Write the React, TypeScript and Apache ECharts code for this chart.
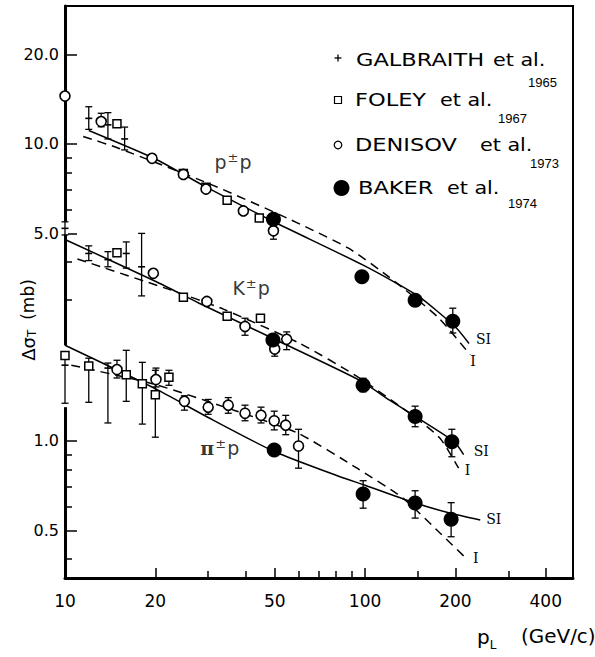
import React, { useEffect, useRef } from 'react';
import * as echarts from 'echarts';

// Axis ranges (log scales)
const X_MIN = 10;
const X_MAX = 493;
const Y_MIN = 0.3457;
const Y_MAX = 29.15;
const xMajorTicks = [10, 20, 50, 100, 200, 400];
const xMinorTicks = [30, 40, 60, 70, 80, 90, 150, 300];
const yMajorTicks = [0.5, 1, 5, 10, 20];
const yMinorTicks = [0.4, 0.6, 0.7, 0.8, 0.9, 3, 4, 6, 7, 8, 9];
// y-axis spine interruptions [pL, from, to]
const axisBreaks = [[10, 1.3, 2.1], [10, 4.95, 5.47]];

// data rows: [pL (GeV/c), delta sigma (mb), low, high]
const galbraithPP = [[12, 12.2, 11.2, 13.35], [13.9, 11.6, 10.4, 12.75], [15.8, 10.4, 9.55, 11.4]];
const galbraithKP = [[10, 5.2, 4.94, 5.47], [12, 4.28, 4.05, 4.54], [13.9, 4.08, 3.86, 4.34], [16, 4.28, 3.82, 4.68], [18, 3.86, 3.08, 5.0]];
const galbraithPiP = [[10, 1.8, 1.34, 1.95], [13.9, 1.76, 1.15, 1.83], [16, 1.67, 1.36, 2.02], [18.1, 1.58, 1.14, 1.84]];

const foleyPP = [[14.9, 11.7], [24.8, 7.95], [29.5, 7.15], [34.7, 6.47], [44.4, 5.63]];
const foleyKP = [[14.9, 4.3], [24.8, 3.05], [34.7, 2.63], [44.8, 2.59]];
const foleyPiP = [[10, 1.94], [12, 1.79, 1.35, 1.9], [16, 1.67], [18.1, 1.56], [20, 1.43, 1.03, 1.73], [22.2, 1.64, 1.54, 1.73]];

const denisovPP = [[10, 14.5], [13.2, 11.9, 11.43, 12.69], [19.5, 8.95], [24.8, 7.9], [29.5, 7.05], [39.3, 5.95], [49.5, 5.1, 4.78, 5.25]];
const denisovKP = [[19.7, 3.67], [29.7, 2.95], [39.8, 2.43, 2.27, 2.59], [50, 2.04, 1.93, 2.15], [54.8, 2.2, 2.03, 2.33]];
const denisovPiP = [[14.9, 1.74, 1.63, 1.87], [20.1, 1.61, 1.52, 1.76], [25, 1.36, 1.27, 1.42], [30, 1.3, 1.23, 1.38], [35, 1.32, 1.24, 1.4], [39.8, 1.24, 1.17, 1.32], [45, 1.22, 1.15, 1.3], [49.8, 1.17, 1.09, 1.26], [54.4, 1.13, 1.05, 1.22], [60, 0.962, 0.81, 1.095]];

const bakerPP = [[49.5, 5.58], [97.6, 3.57], [146.8, 2.98], [196, 2.53, 2.31, 2.8]];
const bakerKP = [[49.3, 2.19], [98.5, 1.54, 1.465, 1.626], [146.8, 1.21, 1.117, 1.31], [194.6, 0.995, 0.885, 1.095]];
const bakerPiP = [[49.8, 0.933, 0.9, 0.97], [98.5, 0.663, 0.594, 0.735], [146.8, 0.618, 0.55, 0.68], [193.5, 0.545, 0.476, 0.62]];

// model curves (SI solid, I dashed)
const siPP = [[12, 11.1], [20, 8.9], [30, 7.1], [50, 5.45], [100, 3.88], [150, 3.08], [200, 2.42], [222, 2.13]];
const iPP = [[11.5, 10.6], [15, 9.7], [31, 7.27], [55, 5.63], [88, 4.46], [120, 3.57], [175, 2.61], [224, 1.95]];
const siKP = [[10, 4.77], [20, 3.45], [28, 2.91], [50, 2.2], [96, 1.6], [121, 1.37], [147, 1.21], [198, 0.995], [213, 0.9]];
const iKP = [[11, 4.1], [22.6, 3.22], [33.7, 2.78], [60.7, 2.13], [94, 1.65], [147, 1.2], [178, 1.02], [205, 0.81]];
const siPiP = [[10, 2.1], [20, 1.5], [30, 1.2], [50, 0.92], [82.5, 0.758], [100, 0.71], [147, 0.618], [194, 0.57], [242, 0.542]];
const iPiP = [[10.5, 1.8], [20, 1.55], [36.5, 1.27], [60, 1.06], [94, 0.81], [134, 0.641], [178, 0.489], [217, 0.403]];

// reaction labels placed at data coordinates
const reactionLabels = [
  { text: 'p{s|±}p', at: [36.3, 8.68] },
  { text: 'K{s|±}p', at: [41.7, 3.27] },
  { text: '{pi|π}{s|±}p', at: [32.8, 0.947] },
];

const FONT = '"DejaVu Sans", sans-serif';

function errorSeries(rows: number[][], center: boolean, z: number) {
  const data = rows
    .filter((d) => d.length === 4 || center)
    .map((d) => (d.length === 4 ? d : [d[0], d[1], d[1], d[1]]));
  return {
    type: 'custom',
    coordinateSystem: 'cartesian2d',
    clip: false,
    silent: true,
    z,
    encode: { x: 0, y: 1 },
    data,
    renderItem: (params: any, api: any) => {
      const x = api.value(0);
      const y = api.value(1);
      const lo = api.value(2);
      const hi = api.value(3);
      const c = api.coord([x, y]);
      const pl = api.coord([x, lo]);
      const ph = api.coord([x, hi]);
      const st = { stroke: '#000', lineWidth: 1.3 };
      const cap = 3.5;
      const children: any[] = [];
      if (hi !== lo) {
        children.push({ type: 'line', shape: { x1: c[0], y1: pl[1], x2: c[0], y2: ph[1] }, style: st });
        children.push({ type: 'line', shape: { x1: c[0] - cap, y1: pl[1], x2: c[0] + cap, y2: pl[1] }, style: st });
        children.push({ type: 'line', shape: { x1: c[0] - cap, y1: ph[1], x2: c[0] + cap, y2: ph[1] }, style: st });
      }
      if (center) {
        children.push({ type: 'line', shape: { x1: c[0] - 3.5, y1: c[1], x2: c[0] + 3.5, y2: c[1] }, style: { stroke: '#000', lineWidth: 1.6 } });
      }
      return { type: 'group', children };
    },
  };
}

function curve(name: string, data: number[][], dashed: boolean, label: string, offset: number[], distance: number) {
  return {
    name,
    type: 'line',
    data,
    showSymbol: false,
    smooth: 0.2,
    z: 1,
    silent: true,
    lineStyle: { color: '#000', width: 1.5, type: dashed ? [9, 6] : 'solid' },
    endLabel: {
      show: true,
      formatter: label,
      distance,
      offset,
      color: '#000',
      fontFamily: '"DejaVu Serif", serif',
      fontSize: 14,
    },
  };
}

function markerSeries(name: string, rows: number[][], kind: string) {
  const base: any = {
    name,
    type: 'scatter',
    data: rows.map((d) => [d[0], d[1]]),
    clip: false,
    silent: true,
  };
  if (kind === 'square') {
    return { ...base, symbol: 'rect', symbolSize: 8, z: 4, itemStyle: { color: '#fff', opacity: 1, borderColor: '#000', borderWidth: 1.5 } };
  }
  if (kind === 'open') {
    return { ...base, symbol: 'circle', symbolSize: 10, z: 5, itemStyle: { color: '#fff', opacity: 1, borderColor: '#000', borderWidth: 1.6 } };
  }
  return { ...base, symbol: 'circle', symbolSize: 15, z: 6, itemStyle: { color: '#000', opacity: 1, borderColor: '#000', borderWidth: 0 } };
}

function legendGraphic() {
  const items = [
    { name: 'GALBRAITH', year: '1965', y: 60, nameX: 356, etalX: 493, yearX: 528, yearY: 82, marker: 'plus', mx: 338 },
    { name: 'FOLEY', year: '1967', y: 100, nameX: 355, etalX: 440, yearX: 498, yearY: 118, marker: 'square', mx: 338 },
    { name: 'DENISOV', year: '1973', y: 145, nameX: 355, etalX: 480, yearX: 530, yearY: 163, marker: 'open', mx: 338 },
    { name: 'BAKER', year: '1974', y: 188, nameX: 358, etalX: 447, yearX: 508, yearY: 203, marker: 'filled', mx: 341.5 },
  ];
  const els: any[] = [];
  items.forEach((it) => {
    if (it.marker === 'plus') {
      els.push({ type: 'line', shape: { x1: it.mx - 3.5, y1: it.y - 2, x2: it.mx + 3.5, y2: it.y - 2 }, style: { stroke: '#000', lineWidth: 1.3 } });
      els.push({ type: 'line', shape: { x1: it.mx, y1: it.y - 5.5, x2: it.mx, y2: it.y + 1.5 }, style: { stroke: '#000', lineWidth: 1.3 } });
    } else if (it.marker === 'square') {
      els.push({ type: 'rect', shape: { x: it.mx - 3.5, y: it.y - 3.5, width: 7, height: 7 }, style: { fill: '#fff', stroke: '#000', lineWidth: 1.2 } });
    } else if (it.marker === 'open') {
      els.push({ type: 'circle', shape: { cx: it.mx, cy: it.y, r: 3.8 }, style: { fill: '#fff', stroke: '#000', lineWidth: 1.2 } });
    } else {
      els.push({ type: 'circle', shape: { cx: it.mx, cy: it.y, r: 8 }, style: { fill: '#000' } });
    }
    els.push({
      type: 'text', x: it.nameX, y: it.y, scaleX: 1.25,
      style: { text: it.name, fontSize: 18, fontFamily: FONT, fill: '#000', textAlign: 'left', verticalAlign: 'middle' },
    });
    els.push({
      type: 'text', x: it.etalX, y: it.y, scaleX: 1.15,
      style: { text: 'et al.', fontSize: 18, fontFamily: FONT, fill: '#000', textAlign: 'left', verticalAlign: 'middle' },
    });
    els.push({
      type: 'text', x: it.yearX, y: it.yearY,
      style: { text: it.year, fontSize: 13, fontFamily: '"Liberation Sans", sans-serif', fill: '#000', textAlign: 'left', verticalAlign: 'middle' },
    });
  });
  // axis titles
  els.push({
    type: 'text', x: 28, y: 320, rotation: Math.PI / 2,
    style: {
      text: '{a|Δσ}{b|T}   {c|(mb)}',
      textAlign: 'center', verticalAlign: 'middle', fill: '#000',
      rich: {
        a: { fontSize: 18, fontFamily: FONT, fill: '#000' },
        b: { fontSize: 12, fontFamily: FONT, fill: '#000', verticalAlign: 'bottom', padding: [8, 0, 0, 0] },
        c: { fontSize: 17, fontFamily: FONT, fill: '#000' },
      },
    },
  });
  els.push({
    type: 'text', x: 477, y: 637,
    style: {
      text: '{p|p}{l|L}',
      textAlign: 'left', verticalAlign: 'middle', fill: '#000',
      rich: {
        p: { fontSize: 20, fontFamily: FONT, fill: '#000' },
        l: { fontSize: 12, fontFamily: FONT, fill: '#000', padding: [16, 0, 0, 0] },
      },
    },
  });
  els.push({
    type: 'text', x: 521, y: 637, scaleX: 1.05,
    style: { text: '(GeV/c)', fontSize: 19, fontFamily: FONT, fill: '#000', textAlign: 'left', verticalAlign: 'middle' },
  });
  return els;
}

export default function App() {
  const ref = useRef<HTMLDivElement>(null);

  useEffect(() => {
    document.body.style.margin = '0';
    if (!ref.current) return;
    const chart = echarts.init(ref.current, undefined, { renderer: 'svg' });

    const axisCommon = { type: 'log', logBase: 10, splitLine: { show: false }, minorTick: { show: false } };

    const option: any = {
      animation: false,
      backgroundColor: '#fff',
      grid: { left: 65, top: 6, right: 22, bottom: 79, show: true, borderColor: '#000', borderWidth: 2, backgroundColor: 'transparent' },
      xAxis: [
        {
          ...axisCommon, min: X_MIN, max: X_MAX, position: 'bottom',
          axisLine: { show: true, lineStyle: { color: '#000', width: 3 } },
          axisTick: { show: true, inside: true, length: 10, customValues: xMajorTicks, lineStyle: { color: '#000', width: 1.5 } },
          axisLabel: { show: true, customValues: xMajorTicks, formatter: (v: number) => String(Math.round(v)), color: '#000', fontSize: 17, fontFamily: FONT, margin: 14 },
        },
        {
          ...axisCommon, min: X_MIN, max: X_MAX, position: 'bottom',
          axisLine: { show: false },
          axisTick: { show: true, inside: true, length: 7, customValues: xMinorTicks, lineStyle: { color: '#000', width: 1.5 } },
          axisLabel: { show: false },
        },
      ],
      yAxis: [
        {
          ...axisCommon, min: Y_MIN, max: Y_MAX, position: 'left',
          axisLine: { show: true, lineStyle: { color: '#000', width: 3 } },
          axisTick: { show: true, inside: true, length: 12, customValues: yMajorTicks, lineStyle: { color: '#000', width: 1.5 } },
          axisLabel: { show: true, customValues: yMajorTicks, formatter: (v: number) => v.toFixed(1), color: '#000', fontSize: 16, fontFamily: FONT, margin: 6 },
        },
        {
          ...axisCommon, min: Y_MIN, max: Y_MAX, position: 'left',
          axisLine: { show: false },
          axisTick: { show: true, inside: true, length: 7, customValues: yMinorTicks, lineStyle: { color: '#000', width: 1.5 } },
          axisLabel: { show: false },
        },
      ],
      graphic: legendGraphic(),
      series: [
        {
          type: 'custom', coordinateSystem: 'cartesian2d', clip: false, silent: true, z: 1,
          encode: { x: 0, y: 1 }, data: axisBreaks,
          renderItem: (params: any, api: any) => {
            const a = api.coord([api.value(0), api.value(1)]);
            const b = api.coord([api.value(0), api.value(2)]);
            return { type: 'rect', shape: { x: a[0] - 3, y: b[1], width: 6, height: a[1] - b[1] }, style: { fill: '#fff' } };
          },
        },
        curve('SI p±p', siPP, false, 'SI', [0, -4], 7),
        curve('I p±p', iPP, true, 'I', [-4, 6], 4),
        curve('SI K±p', siKP, false, 'SI', [0, -4], 10),
        curve('I K±p', iKP, true, 'I', [0, 2], 6),
        curve('SI π±p', siPiP, false, 'SI', [0, -1], 6),
        curve('I π±p', iPiP, true, 'I', [0, 0], 7),
        errorSeries([...galbraithPP, ...galbraithKP, ...galbraithPiP], true, 3),
        errorSeries([...foleyPP, ...foleyKP, ...foleyPiP], false, 3),
        errorSeries([...denisovPP, ...denisovKP, ...denisovPiP], false, 3),
        errorSeries([...bakerPP, ...bakerKP, ...bakerPiP], false, 3),
        markerSeries('FOLEY et al. 1967', [...foleyPP, ...foleyKP, ...foleyPiP], 'square'),
        markerSeries('DENISOV et al. 1973', [...denisovPP, ...denisovKP, ...denisovPiP], 'open'),
        markerSeries('BAKER et al. 1974', [...bakerPP, ...bakerKP, ...bakerPiP], 'filled'),
        {
          name: 'reactions',
          type: 'scatter',
          silent: true,
          symbolSize: 1,
          itemStyle: { color: 'rgba(0,0,0,0)' },
          z: 7,
          data: reactionLabels.map((r) => ({ value: r.at, label: { formatter: r.text } })),
          label: {
            show: true,
            position: 'inside',
            color: '#000',
            fontSize: 19,
            fontFamily: FONT,
            rich: {
              s: { fontSize: 13, fontFamily: FONT, color: '#000', verticalAlign: 'top', padding: [0, 1, 10, 1] },
              pi: { fontSize: 19, fontFamily: '"DejaVu Serif", serif', fontWeight: 'bold', color: '#000' },
            },
          },
        },
      ],
    };

    chart.setOption(option);
    return () => chart.dispose();
  }, []);

  return <div ref={ref} style={{ width: 595, height: 657 }} />;
}
